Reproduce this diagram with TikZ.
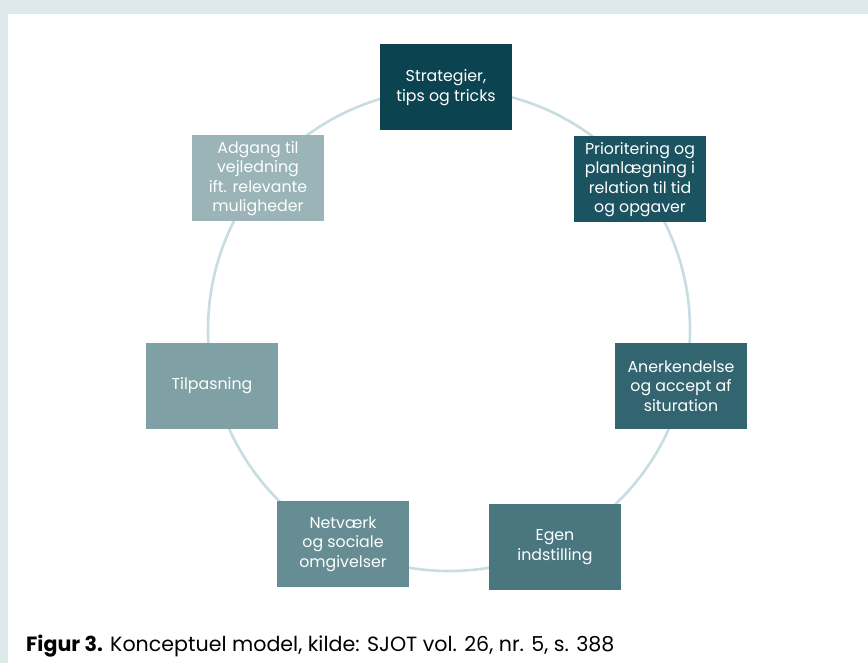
\documentclass[tikz,border=0pt]{standalone}
\usepackage{fontspec}
\setmainfont{Poppins}
\definecolor{band}{HTML}{DFE9EB}
\definecolor{ring}{HTML}{C8DDE2}
\definecolor{cA}{HTML}{0B4350}
\definecolor{cB}{HTML}{1C5360}
\definecolor{cC}{HTML}{32656F}
\definecolor{cD}{HTML}{4A7680}
\definecolor{cE}{HTML}{658D93}
\definecolor{cF}{HTML}{7FA0A5}
\definecolor{cG}{HTML}{9AB4B8}
\begin{document}
\begin{tikzpicture}[x=1pt,y=-1pt,
  box/.style={minimum width=132pt,minimum height=86pt,inner sep=0pt,text=white,
    align=center,font=\fontsize{15.8}{19.5}\selectfont},
  ringline/.style={draw=ring,line width=2.6pt}]
\useasboundingbox (0,0) rectangle (868,663);
\fill[white] (0,0) rectangle (868,663);
\fill[band] (0,0) rectangle (868,14);
\fill[band] (0,0) rectangle (8,663);
\coordinate (ctr) at (449,330);
\draw[ringline] (ctr) circle[radius=241];
\node[box,fill=cA] (n1) at (446,87.5) {Strategier,\\tips og tricks};
\node[box,fill=cB] (n2) at (640,179.5) {Prioritering og\\planlægning i\\relation til tid\\og opgaver};
\node[box,fill=cC] (n3) at (681,386) {Anerkendelse\\og accept af\\situration};
\node[box,fill=cD] (n4) at (555,547) {Egen\\indstilling};
\node[box,fill=cE] (n5) at (343,544) {Netværk\\og sociale\\omgivelser};
\node[box,fill=cF] (n6) at (212,386) {Tilpasning};
\node[box,fill=cG] (n7) at (258,178.5) {Adgang til\\vejledning\\ift. relevante\\muligheder};
\node[anchor=base west,inner sep=0pt,font=\fontsize{20.6}{24}\selectfont] (cap) at (26,651)
  {\textbf{Figur 3.} Konceptuel model, kilde: SJOT vol. 26, nr. 5, s. 388};
\end{tikzpicture}
\end{document}
